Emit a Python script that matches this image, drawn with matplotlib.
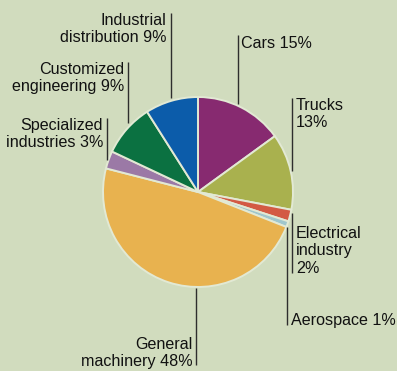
import matplotlib
matplotlib.use('Agg')
from matplotlib import pyplot as plt

W, H = 397, 371
BG = '#d1dcbe'

sectors = ['Cars', 'Trucks', 'Electrical\nindustry', 'Aerospace', 'General\nmachinery',
           'Specialized\nindustries', 'Customized\nengineering', 'Industrial\ndistribution']
shares = [15, 13, 2, 1, 48, 3, 9, 9]
colors = ['#872a70', '#a9b14e', '#d35a44', '#9fc6cc', '#e8b24f',
          '#9b79a6', '#0b7141', '#0c5caa']

# label text with its percentage, as printed next to each slice
label_texts = ['Cars 15%', 'Trucks\n13%', 'Electrical\nindustry\n2%', 'Aerospace 1%',
               'General\nmachinery 48%', 'Specialized\nindustries 3%',
               'Customized\nengineering 9%', 'Industrial\ndistribution 9%']

# layout in pixels from the top-left: leader x, leader top, leader bottom, text x, text y, align
layout = [
    (238, 35, 104, 241, 43, 'left', 'center'),
    (292, 98, 171, 296, 114, 'left', 'center'),
    (292, 213, 273, 296, 251, 'left', 'center'),
    (287, 227, 325, 291, 320, 'left', 'center'),
    (196, 288, 365, 193, 353, 'right', 'center'),
    (107, 118, 160, 103, 134, 'right', 'center'),
    (128, 62, 123, 124, 78, 'right', 'center'),
    (171, 13, 98, 166, 29, 'right', 'center'),
]

plt.rcParams['font.family'] = ['Liberation Sans', 'DejaVu Sans']

fig = plt.figure(figsize=(W / 100, H / 100), dpi=100, facecolor=BG)
ax = fig.add_axes([0, 0, 1, 1])
ax.set_facecolor(BG)

ax.pie(shares, colors=colors, startangle=90, counterclock=False,
       center=(198, H - 192), radius=95,
       wedgeprops=dict(edgecolor='#e2e9d4', linewidth=1.4))

for text, (lx, ly0, ly1, tx, ty, ha, va) in zip(label_texts, layout):
    ax.plot([lx, lx], [H - ly0, H - ly1], color='#2e2e2e', linewidth=1.0, solid_capstyle='butt')
    ax.text(tx, H - ty, text, ha=ha, va=va, fontsize=11.6, color='#111111',
            linespacing=1.2, multialignment=ha)

ax.set_xlim(0, W)
ax.set_ylim(0, H)
ax.set_aspect('equal')
ax.axis('off')

fig.savefig('out.png', dpi=100, facecolor=BG)
